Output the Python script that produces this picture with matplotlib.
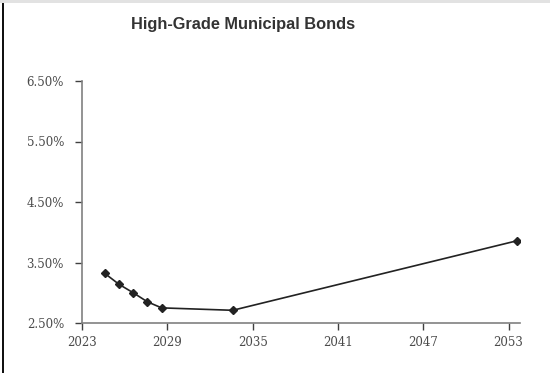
import matplotlib
matplotlib.use("Agg")
import matplotlib.pyplot as plt
from matplotlib.ticker import FuncFormatter
from matplotlib.patches import Rectangle

years = [2024.6, 2025.6, 2026.6, 2027.6, 2028.6, 2033.6, 2053.6]
yields = [3.32, 3.14, 3.00, 2.85, 2.75, 2.71, 3.86]
x_ticks = [2023, 2029, 2035, 2041, 2047, 2053]
y_ticks = [2.5, 3.5, 4.5, 5.5, 6.5]

fig = plt.figure(figsize=(5.5, 3.73), dpi=100)
fig.patch.set_facecolor("white")

# frame bits around the chart
fig.patches.append(Rectangle((0, 1 - 3 / 373), 1, 3 / 373, transform=fig.transFigure,
                             facecolor="#e2e2e2", edgecolor="none"))
fig.patches.append(Rectangle((2 / 550, 0), 2 / 550, 1 - 3 / 373, transform=fig.transFigure,
                             facecolor="#111111", edgecolor="none"))

ax = fig.add_axes([82 / 550, 50 / 373, 438 / 550, 242 / 373])
ax.plot(years, yields, color="#222222", lw=1.2, marker="D", ms=4.5,
        markerfacecolor="#222222", markeredgecolor="#222222")

ax.set_xlim(2023, 2053.8)
ax.set_ylim(2.5, 6.5)
ax.set_xticks(x_ticks)
ax.set_yticks(y_ticks)
ax.yaxis.set_major_formatter(FuncFormatter(lambda v, p: f"{v:.2f}%"))

for s in ["top", "right"]:
    ax.spines[s].set_visible(False)
for s in ["left", "bottom"]:
    ax.spines[s].set_color("#808080")
    ax.spines[s].set_linewidth(1.2)

ax.tick_params(direction="out", length=5, width=1, color="#404040",
               labelcolor="#4a4a4a", labelsize=8.5)
for lab in ax.get_xticklabels() + ax.get_yticklabels():
    lab.set_family("DejaVu Serif")
ax.tick_params(axis="y", pad=8)
ax.tick_params(axis="x", pad=4)

fig.text(243 / 550, 1 - 25 / 373, "High-Grade Municipal Bonds", ha="center", va="center",
         fontsize=11.8, fontweight="bold", color="#333333", family="Liberation Sans")

fig.savefig("out.png", dpi=100)
